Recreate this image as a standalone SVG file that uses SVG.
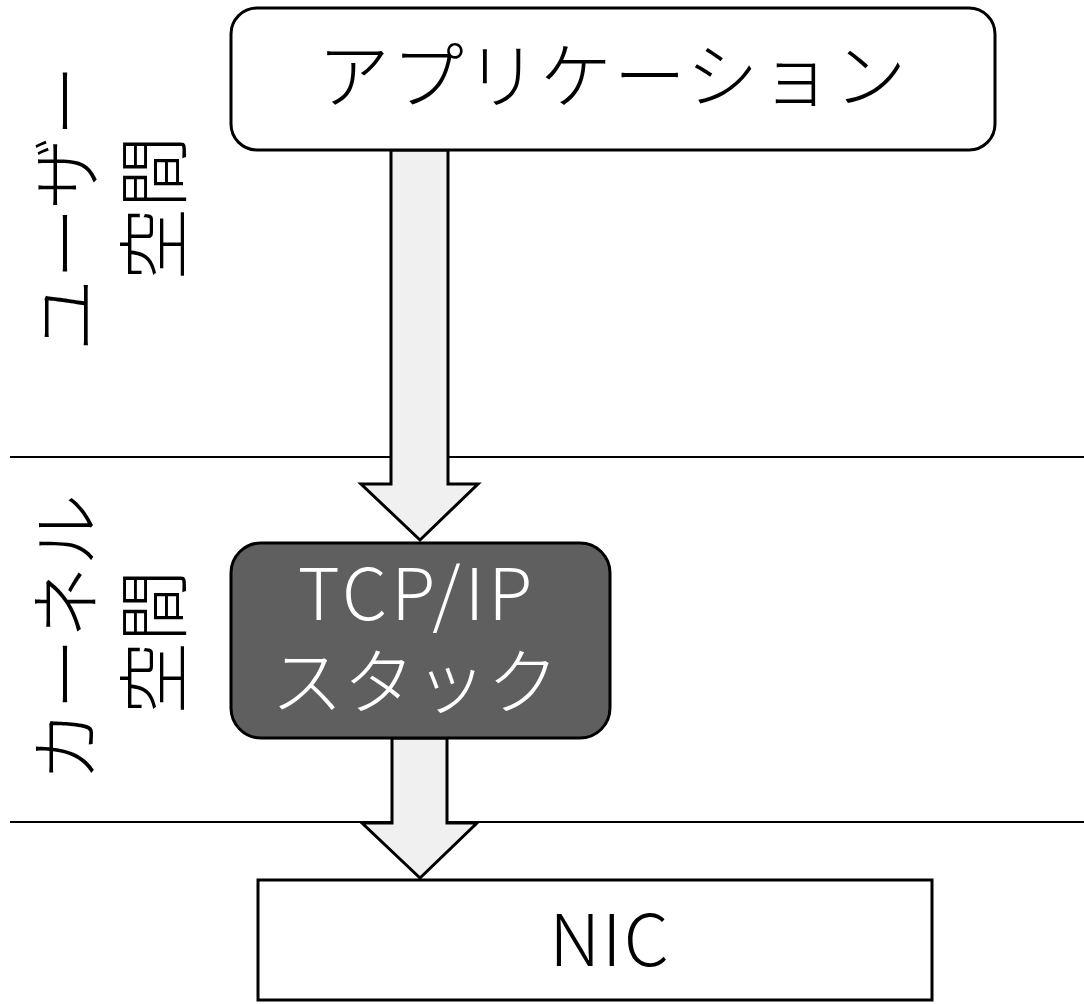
<svg xmlns="http://www.w3.org/2000/svg" width="1084" height="1004" viewBox="0 0 1084 1004">
<style>
.lbl{font-family:"Noto Sans CJK JP","Noto Sans",sans-serif;font-size:72px;font-weight:300;text-anchor:middle}
.side{font-family:"Noto Sans CJK JP",sans-serif;font-size:72px;font-weight:300;text-anchor:middle;dominant-baseline:central}
.arrow{fill:#f0f0f0;stroke:#000;stroke-width:3;stroke-linejoin:miter}
.sep{stroke:#000;stroke-width:2}
</style>
<rect width="1084" height="1004" fill="#fff"/>
<g id="separators">
<line class="sep" x1="10" y1="457" x2="1084" y2="457"/>
<line class="sep" x1="10" y1="822" x2="1084" y2="822"/>
</g>
<g id="side-labels">
<text class="side" transform="translate(60,208) rotate(-90)">ユーザー</text>
<text class="side" transform="translate(148,208) rotate(-90)">空間</text>
<text class="side" transform="translate(60,638) rotate(-90)">カーネル</text>
<text class="side" transform="translate(148,642) rotate(-90)">空間</text>
</g>
<g id="connectors">
<polygon class="arrow" points="391,150 448,150 448,484 478,484 420,540 361,484 391,484"/>
<polygon class="arrow" points="392,738 447,738 447,823 477,823 420,878 362,823 392,823"/>
</g>
<g id="node-app">
<rect x="231" y="8" width="764" height="142" rx="26" fill="#fff" stroke="#000" stroke-width="3"/>
<text class="lbl" x="613" y="102" letter-spacing="2">アプリケーション</text>
</g>
<g id="node-tcpip">
<rect x="231" y="543" width="379" height="195" rx="30" fill="#5f5f5f" stroke="#000" stroke-width="3"/>
<text class="lbl" x="417" y="620" fill="#fff" font-size="76" letter-spacing="4">TCP/IP</text>
<text class="lbl" x="415" y="708" fill="#fff">スタック</text>
</g>
<g id="node-nic">
<rect x="258" y="880" width="674" height="120" fill="#fff" stroke="#000" stroke-width="3"/>
<text class="lbl" x="610" y="966" letter-spacing="2">NIC</text>
</g>
</svg>
